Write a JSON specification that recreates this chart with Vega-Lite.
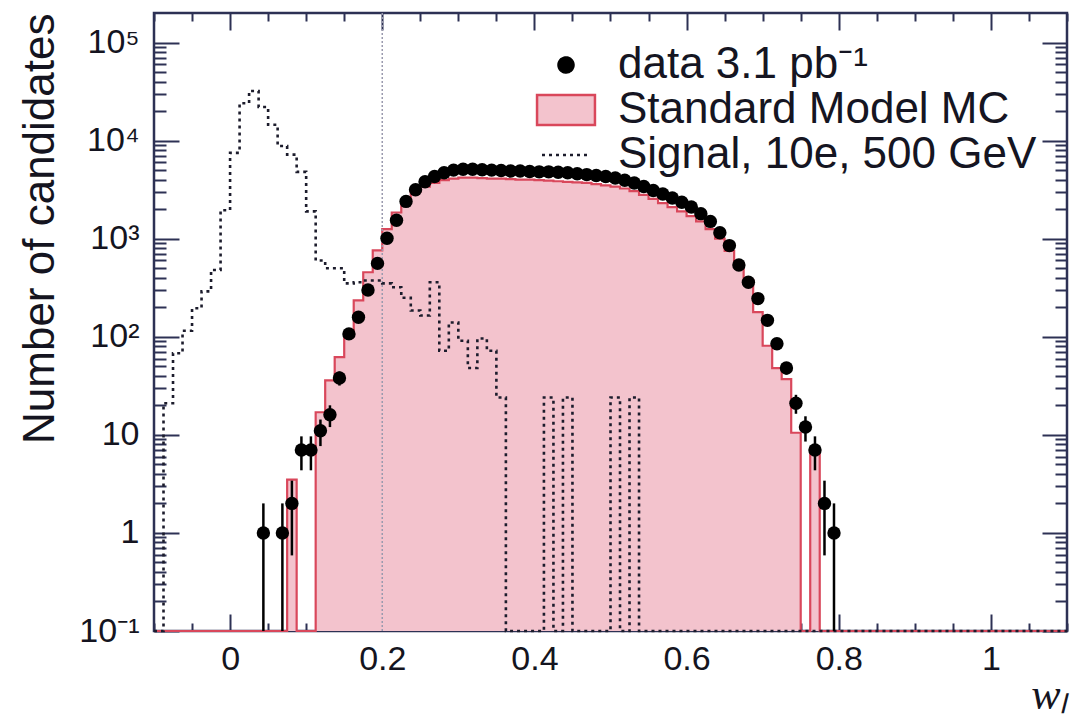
{
  "$schema": "https://vega.github.io/schema/vega-lite/v6.json",
  "width": 913,
  "height": 618,
  "autosize": {"type": "none"},
  "padding": {"left": 154, "top": 13, "right": 10, "bottom": 93},
  "background": "white",
  "config": {
    "view": {"stroke": "#2d3154", "strokeWidth": 2.5},
    "axis": {"domain": false, "grid": false, "tickColor": "#2d3154", "tickWidth": 2, "labelFont": "Liberation Sans", "labelColor": "#141420", "labelOverlap": false, "labelFlush": false},
    "legend": {"orient": "top-right", "offset": 30, "padding": 0, "labelFont": "Liberation Sans", "labelFontSize": 44, "labelColor": "#151522", "symbolSize": 900, "labelOffset": 30, "rowPadding": 1, "symbolStrokeWidth": 2.5, "symbolOpacity": 1, "labelLimit": 700}
  },
  "datasets": {
    "bins": [
      {"x": -0.1, "mc": 0.1, "sig": 0.1},
      {"x": -0.0875, "mc": 0.1, "sig": 21},
      {"x": -0.075, "mc": 0.1, "sig": 68},
      {"x": -0.0625, "mc": 0.1, "sig": 115},
      {"x": -0.05, "mc": 0.1, "sig": 195},
      {"x": -0.0375, "mc": 0.1, "sig": 290},
      {"x": -0.025, "mc": 0.1, "sig": 480},
      {"x": -0.0125, "mc": 0.1, "sig": 1950},
      {"x": 0, "mc": 0.1, "sig": 7500},
      {"x": 0.0125, "mc": 0.1, "sig": 24000},
      {"x": 0.025, "mc": 0.1, "sig": 32000},
      {"x": 0.0375, "mc": 0.1, "sig": 22000},
      {"x": 0.05, "mc": 0.1, "sig": 14500},
      {"x": 0.0625, "mc": 0.1, "sig": 8800},
      {"x": 0.075, "mc": 3.5, "sig": 7200},
      {"x": 0.0875, "mc": 0.1, "sig": 4800},
      {"x": 0.1, "mc": 0.1, "sig": 1900},
      {"x": 0.1125, "mc": 17, "sig": 600},
      {"x": 0.125, "mc": 36, "sig": 500},
      {"x": 0.1375, "mc": 62, "sig": 500},
      {"x": 0.15, "mc": 110, "sig": 350},
      {"x": 0.1625, "mc": 235, "sig": 360},
      {"x": 0.175, "mc": 455, "sig": 375},
      {"x": 0.1875, "mc": 760, "sig": 375},
      {"x": 0.2, "mc": 1250, "sig": 350},
      {"x": 0.2125, "mc": 1850, "sig": 320},
      {"x": 0.225, "mc": 2500, "sig": 250},
      {"x": 0.2375, "mc": 3000, "sig": 185},
      {"x": 0.25, "mc": 3400, "sig": 165},
      {"x": 0.2625, "mc": 3700, "sig": 360},
      {"x": 0.275, "mc": 3950, "sig": 72},
      {"x": 0.2875, "mc": 4100, "sig": 140},
      {"x": 0.3, "mc": 4200, "sig": 91},
      {"x": 0.3125, "mc": 4200, "sig": 48},
      {"x": 0.325, "mc": 4150, "sig": 96},
      {"x": 0.3375, "mc": 4100, "sig": 72},
      {"x": 0.35, "mc": 4100, "sig": 24},
      {"x": 0.3625, "mc": 4050, "sig": 0.1},
      {"x": 0.375, "mc": 4000, "sig": 0.1},
      {"x": 0.3875, "mc": 4000, "sig": 0.1},
      {"x": 0.4, "mc": 3950, "sig": 0.1},
      {"x": 0.4125, "mc": 3900, "sig": 24},
      {"x": 0.425, "mc": 3850, "sig": 0.1},
      {"x": 0.4375, "mc": 3800, "sig": 24},
      {"x": 0.45, "mc": 3750, "sig": 0.1},
      {"x": 0.4625, "mc": 3700, "sig": 0.1},
      {"x": 0.475, "mc": 3600, "sig": 0.1},
      {"x": 0.4875, "mc": 3500, "sig": 0.1},
      {"x": 0.5, "mc": 3400, "sig": 24},
      {"x": 0.5125, "mc": 3250, "sig": 0.1},
      {"x": 0.525, "mc": 3050, "sig": 24},
      {"x": 0.5375, "mc": 2800, "sig": 0.1},
      {"x": 0.55, "mc": 2550, "sig": 0.1},
      {"x": 0.5625, "mc": 2300, "sig": 0.1},
      {"x": 0.575, "mc": 2100, "sig": 0.1},
      {"x": 0.5875, "mc": 1900, "sig": 0.1},
      {"x": 0.6, "mc": 1700, "sig": 0.1},
      {"x": 0.6125, "mc": 1500, "sig": 0.1},
      {"x": 0.625, "mc": 1250, "sig": 0.1},
      {"x": 0.6375, "mc": 1000, "sig": 0.1},
      {"x": 0.65, "mc": 750, "sig": 0.1},
      {"x": 0.6625, "mc": 520, "sig": 0.1},
      {"x": 0.675, "mc": 380, "sig": 0.1},
      {"x": 0.6875, "mc": 178, "sig": 0.1},
      {"x": 0.7, "mc": 81, "sig": 0.1},
      {"x": 0.7125, "mc": 48, "sig": 0.1},
      {"x": 0.725, "mc": 37, "sig": 0.1},
      {"x": 0.7375, "mc": 10.5, "sig": 0.1},
      {"x": 0.75, "mc": 0.1, "sig": 0.1},
      {"x": 0.7625, "mc": 6.8, "sig": 0.1},
      {"x": 0.775, "mc": 0.1, "sig": 0.1},
      {"x": 0.7875, "mc": 0.1, "sig": 0.1},
      {"x": 0.8, "mc": 0.1, "sig": 0.1},
      {"x": 0.8125, "mc": 0.1, "sig": 0.1},
      {"x": 0.825, "mc": 0.1, "sig": 0.1},
      {"x": 0.8375, "mc": 0.1, "sig": 0.1},
      {"x": 0.85, "mc": 0.1, "sig": 0.1},
      {"x": 0.8625, "mc": 0.1, "sig": 0.1},
      {"x": 0.875, "mc": 0.1, "sig": 0.1},
      {"x": 0.8875, "mc": 0.1, "sig": 0.1},
      {"x": 0.9, "mc": 0.1, "sig": 0.1},
      {"x": 0.9125, "mc": 0.1, "sig": 0.1},
      {"x": 0.925, "mc": 0.1, "sig": 0.1},
      {"x": 0.9375, "mc": 0.1, "sig": 0.1},
      {"x": 0.95, "mc": 0.1, "sig": 0.1},
      {"x": 0.9625, "mc": 0.1, "sig": 0.1},
      {"x": 0.975, "mc": 0.1, "sig": 0.1},
      {"x": 0.9875, "mc": 0.1, "sig": 0.1},
      {"x": 1, "mc": 0.1, "sig": 0.1},
      {"x": 1.0125, "mc": 0.1, "sig": 0.1},
      {"x": 1.025, "mc": 0.1, "sig": 0.1},
      {"x": 1.0375, "mc": 0.1, "sig": 0.1},
      {"x": 1.05, "mc": 0.1, "sig": 0.1},
      {"x": 1.0625, "mc": 0.1, "sig": 0.1},
      {"x": 1.075, "mc": 0.1, "sig": 0.1},
      {"x": 1.0875, "mc": 0.1, "sig": 0.1},
      {"x": 1.1, "mc": 0.1, "sig": 0.1}
    ],
    "pts": [
      {"x": 0.04375, "n": 1, "lo": 0.1, "hi": 2},
      {"x": 0.06875, "n": 1, "lo": 0.1, "hi": 2},
      {"x": 0.08125, "n": 2, "lo": 0.59, "hi": 3.41},
      {"x": 0.09375, "n": 7, "lo": 4.35, "hi": 9.65},
      {"x": 0.10625, "n": 7, "lo": 4.35, "hi": 9.65},
      {"x": 0.11875, "n": 11, "lo": 7.68, "hi": 14.32},
      {"x": 0.13125, "n": 16, "lo": 12, "hi": 20},
      {"x": 0.14375, "n": 38, "lo": 31.8, "hi": 44.2},
      {"x": 0.15625, "n": 107},
      {"x": 0.16875, "n": 158},
      {"x": 0.18125, "n": 300},
      {"x": 0.19375, "n": 560},
      {"x": 0.20625, "n": 1010},
      {"x": 0.21875, "n": 1540},
      {"x": 0.23125, "n": 2400},
      {"x": 0.24375, "n": 3150},
      {"x": 0.25625, "n": 3800},
      {"x": 0.26875, "n": 4300},
      {"x": 0.28125, "n": 4700},
      {"x": 0.29375, "n": 5000},
      {"x": 0.30625, "n": 5100},
      {"x": 0.31875, "n": 5100},
      {"x": 0.33125, "n": 5050},
      {"x": 0.34375, "n": 5000},
      {"x": 0.35625, "n": 4950},
      {"x": 0.36875, "n": 4900},
      {"x": 0.38125, "n": 4900},
      {"x": 0.39375, "n": 4850},
      {"x": 0.40625, "n": 4800},
      {"x": 0.41875, "n": 4800},
      {"x": 0.43125, "n": 4750},
      {"x": 0.44375, "n": 4700},
      {"x": 0.45625, "n": 4600},
      {"x": 0.46875, "n": 4500},
      {"x": 0.48125, "n": 4400},
      {"x": 0.49375, "n": 4300},
      {"x": 0.50625, "n": 4150},
      {"x": 0.51875, "n": 3950},
      {"x": 0.53125, "n": 3700},
      {"x": 0.54375, "n": 3400},
      {"x": 0.55625, "n": 3100},
      {"x": 0.56875, "n": 2850},
      {"x": 0.58125, "n": 2600},
      {"x": 0.59375, "n": 2350},
      {"x": 0.60625, "n": 2100},
      {"x": 0.61875, "n": 1800},
      {"x": 0.63125, "n": 1500},
      {"x": 0.64375, "n": 1150},
      {"x": 0.65625, "n": 850},
      {"x": 0.66875, "n": 540},
      {"x": 0.68125, "n": 360},
      {"x": 0.69375, "n": 245},
      {"x": 0.70625, "n": 147},
      {"x": 0.71875, "n": 85, "lo": 75.8, "hi": 94.2},
      {"x": 0.73125, "n": 48, "lo": 41.1, "hi": 54.9},
      {"x": 0.74375, "n": 21, "lo": 16.4, "hi": 25.6},
      {"x": 0.75625, "n": 12, "lo": 8.54, "hi": 15.46},
      {"x": 0.76875, "n": 7, "lo": 4.35, "hi": 9.65},
      {"x": 0.78125, "n": 2, "lo": 0.59, "hi": 3.41},
      {"x": 0.79375, "n": 1, "lo": 0.1, "hi": 2}
    ],
    "cut": [{"x": 0.2}],
    "leg": [{"s": "data 3.1 pb⁻¹"}, {"s": "Standard Model MC"}, {"s": "Signal, 10e, 500 GeV"}]
  },
  "resolve": {"axis": {"x": "independent", "y": "independent"}},
  "layer": [
    {
      "data": {"name": "bins"},
      "mark": {"type": "area", "interpolate": "step-after", "fill": "#f3c3cd", "opacity": 1},
      "encoding": {
        "x": {"field": "x", "type": "quantitative", "scale": {"domain": [-0.1, 1.1], "nice": false, "zero": false},
          "axis": {"orient": "bottom",
            "values": [-0.1,-0.05,0,0.05,0.1,0.15,0.2,0.25,0.3,0.35,0.4,0.45,0.5,0.55,0.6,0.65,0.7,0.75,0.8,0.85,0.9,0.95,1,1.05,1.1],
            "labelExpr": "indexof([0,0.2,0.4,0.6,0.8,1], datum.value) >= 0 ? format(datum.value, '~g') : ''",
            "tickSize": {"condition": {"test": "indexof([0,0.2,0.4,0.6,0.8,1], datum.value) >= 0", "value": -17}, "value": -8},
            "labelPadding": 28, "labelFontSize": 34,
            "title": "wₗ", "titleFont": "Liberation Serif", "titleFontStyle": "italic", "titleFontWeight": "normal", "titleFontSize": 44, "titleColor": "#141420",
            "titleAnchor": "end", "titleAlign": "right", "titlePadding": -12}},
        "y": {"field": "mc", "type": "quantitative", "scale": {"type": "log", "domain": [0.1, 200000], "nice": false},
          "axis": {"orient": "left",
            "values": [0.1,0.2,0.3,0.4,0.5,0.6,0.7,0.8,0.9,1,2,3,4,5,6,7,8,9,10,20,30,40,50,60,70,80,90,100,200,300,400,500,600,700,800,900,1000,2000,3000,4000,5000,6000,7000,8000,9000,10000,20000,30000,40000,50000,60000,70000,80000,90000,100000],
            "labelExpr": "datum.value == 0.1 ? '10⁻¹' : datum.value == 1 ? '1' : datum.value == 10 ? '10' : datum.value == 100 ? '10²' : datum.value == 1000 ? '10³' : datum.value == 10000 ? '10⁴' : datum.value == 100000 ? '10⁵' : ''",
            "tickSize": {"condition": {"test": "indexof([0.1,1,10,100,1000,10000,100000], datum.value) >= 0", "value": -25}, "value": -12},
            "labelPadding": 40, "labelFontSize": 34,
            "title": "Number of candidates", "titleFont": "Liberation Sans", "titleFontWeight": "normal", "titleFontSize": 44, "titleColor": "#141420",
            "titleAnchor": "end", "titlePadding": 16}},
        "y2": {"datum": 0.1}
      }
    },
    {
      "data": {"name": "bins"},
      "mark": {"type": "line", "interpolate": "step-after", "stroke": "#d9475b", "strokeWidth": 2.2},
      "encoding": {
        "x": {"field": "x", "type": "quantitative",
          "axis": {"orient": "top", "labels": false, "title": null,
            "values": [-0.1,-0.05,0,0.05,0.1,0.15,0.2,0.25,0.3,0.35,0.4,0.45,0.5,0.55,0.6,0.65,0.7,0.75,0.8,0.85,0.9,0.95,1,1.05,1.1],
            "tickSize": {"condition": {"test": "indexof([0,0.2,0.4,0.6,0.8,1], datum.value) >= 0", "value": -17}, "value": -8}}},
        "y": {"field": "mc", "type": "quantitative",
          "axis": {"orient": "right", "labels": false, "title": null,
            "values": [0.1,0.2,0.3,0.4,0.5,0.6,0.7,0.8,0.9,1,2,3,4,5,6,7,8,9,10,20,30,40,50,60,70,80,90,100,200,300,400,500,600,700,800,900,1000,2000,3000,4000,5000,6000,7000,8000,9000,10000,20000,30000,40000,50000,60000,70000,80000,90000,100000],
            "tickSize": {"condition": {"test": "indexof([0.1,1,10,100,1000,10000,100000], datum.value) >= 0", "value": -25}, "value": -12}}}
      }
    },
    {
      "data": {"name": "cut"},
      "mark": {"type": "rule", "stroke": "#9a9aae", "strokeWidth": 1.5, "strokeDash": [2, 2]},
      "encoding": {"x": {"field": "x", "type": "quantitative", "axis": null}}
    },
    {
      "data": {"name": "bins"},
      "mark": {"type": "line", "interpolate": "step-after", "stroke": "#1c1c2c", "strokeWidth": 2.6, "strokeDash": [3, 4]},
      "encoding": {
        "x": {"field": "x", "type": "quantitative", "axis": null},
        "y": {"field": "sig", "type": "quantitative", "axis": null}
      }
    },
    {
      "data": {"name": "pts"},
      "transform": [{"filter": "isValid(datum.lo)"}],
      "mark": {"type": "rule", "stroke": "#000000", "strokeWidth": 2.5},
      "encoding": {
        "x": {"field": "x", "type": "quantitative", "axis": null},
        "y": {"field": "lo", "type": "quantitative", "axis": null},
        "y2": {"field": "hi"}
      }
    },
    {
      "data": {"name": "pts"},
      "mark": {"type": "point", "filled": true, "color": "#000000", "size": 180, "opacity": 1},
      "encoding": {
        "x": {"field": "x", "type": "quantitative", "axis": null},
        "y": {"field": "n", "type": "quantitative", "axis": null}
      }
    },
    {
      "data": {"name": "leg"},
      "mark": {"type": "point", "filled": true, "opacity": 0},
      "encoding": {
        "shape": {"field": "s", "type": "nominal", "legend": {"title": null},
          "scale": {"domain": ["data 3.1 pb⁻¹", "Standard Model MC", "Signal, 10e, 500 GeV"],
            "range": ["M-0.5,0A0.5,0.5 0 1,0 0.5,0A0.5,0.5 0 1,0 -0.5,0Z", "M-1.93,-1H1.93V1H-1.93Z", "M-1.6,0H1.6"]}},
        "fill": {"field": "s", "type": "nominal", "legend": {"title": null},
          "scale": {"domain": ["data 3.1 pb⁻¹", "Standard Model MC", "Signal, 10e, 500 GeV"], "range": ["#000000", "#f3c3cd", "transparent"]}},
        "stroke": {"field": "s", "type": "nominal", "legend": {"title": null},
          "scale": {"domain": ["data 3.1 pb⁻¹", "Standard Model MC", "Signal, 10e, 500 GeV"], "range": ["#000000", "#d9475b", "#1c1c2c"]}},
        "strokeDash": {"field": "s", "type": "nominal", "legend": {"title": null},
          "scale": {"domain": ["data 3.1 pb⁻¹", "Standard Model MC", "Signal, 10e, 500 GeV"], "range": [[1, 0], [1, 0], [3, 4]]}}
      }
    }
  ]
}
